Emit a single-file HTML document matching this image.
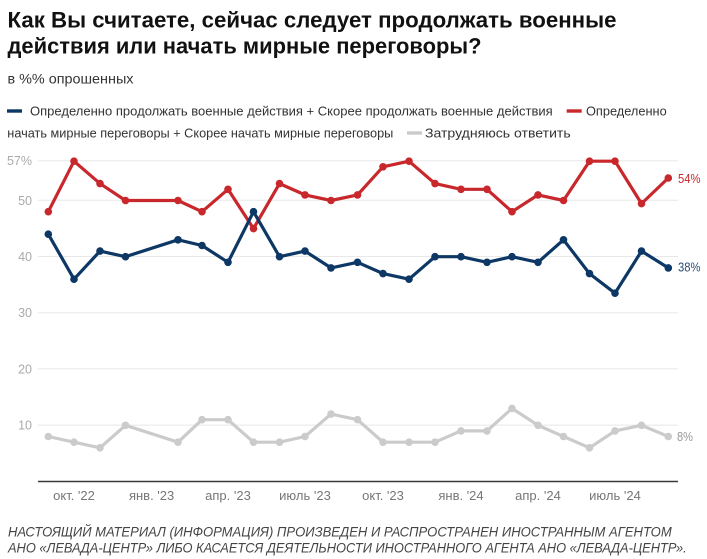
<!DOCTYPE html>
<html><head><meta charset="utf-8"><style>
html,body{margin:0;padding:0;background:#fff;}
svg{display:block;}
text{font-family:"Liberation Sans","Noto Sans CJK SC",sans-serif;}
</style></head><body>
<svg width="707" height="559" viewBox="0 0 707 559" xmlns="http://www.w3.org/2000/svg">
<defs>
<marker id="mr" markerWidth="10" markerHeight="10" refX="5" refY="5" markerUnits="userSpaceOnUse"><circle cx="5" cy="5" r="3.8" fill="#c8282c"/></marker>
<marker id="mb" markerWidth="10" markerHeight="10" refX="5" refY="5" markerUnits="userSpaceOnUse"><circle cx="5" cy="5" r="3.8" fill="#0d3765"/></marker>
<marker id="mg" markerWidth="10" markerHeight="10" refX="5" refY="5" markerUnits="userSpaceOnUse"><circle cx="5" cy="5" r="3.8" fill="#cbcbcb"/></marker>
</defs>
<rect width="707" height="559" fill="#fff"/>
<!-- title -->
<text x="7.5" y="27.5" font-size="22" font-weight="bold" fill="#111" textLength="609" lengthAdjust="spacingAndGlyphs">Как Вы считаете, сейчас следует продолжать военные</text>
<text x="7.5" y="53.5" font-size="22" font-weight="bold" fill="#111" textLength="474" lengthAdjust="spacingAndGlyphs">действия или начать мирные переговоры?</text>
<text x="7.5" y="83.5" font-size="14" fill="#333" textLength="126" lengthAdjust="spacingAndGlyphs">в %% опрошенных</text>
<!-- legend -->
<rect x="7" y="109.3" width="15" height="3.4" fill="#0d3765"/>
<text x="30" y="115.5" font-size="13" fill="#333" textLength="522.7" lengthAdjust="spacingAndGlyphs">Определенно продолжать военные действия + Скорее продолжать военные действия</text>
<rect x="566.7" y="109.3" width="15" height="3.4" fill="#c8282c"/>
<text x="586" y="115.5" font-size="13" fill="#333" textLength="80.7" lengthAdjust="spacingAndGlyphs">Определенно</text>
<text x="7.3" y="137.5" font-size="13" fill="#333" textLength="386" lengthAdjust="spacingAndGlyphs">начать мирные переговоры + Скорее начать мирные переговоры</text>
<rect x="407" y="131.3" width="15" height="3.4" fill="#cbcbcb"/>
<text x="425" y="137.5" font-size="13" fill="#333" textLength="145.7" lengthAdjust="spacingAndGlyphs">Затрудняюсь ответить</text>
<!-- grid -->
<g stroke="#e8e8e8" stroke-width="1">
<line x1="38" x2="678" y1="160.7" y2="160.7"/>
<line x1="38" x2="678" y1="200.3" y2="200.3"/>
<line x1="38" x2="678" y1="256.5" y2="256.5"/>
<line x1="38" x2="678" y1="312.7" y2="312.7"/>
<line x1="38" x2="678" y1="368.9" y2="368.9"/>
<line x1="38" x2="678" y1="425.1" y2="425.1"/>
</g>
<g font-size="12.5" fill="#aaa" text-anchor="end">
<text x="32" y="165.2">57%</text>
<text x="32" y="204.8">50</text>
<text x="32" y="261">40</text>
<text x="32" y="317.2">30</text>
<text x="32" y="373.4">20</text>
<text x="32" y="429.6">10</text>
</g>
<line x1="38" x2="678" y1="481.5" y2="481.5" stroke="#3a3a3a" stroke-width="1.6"/>
<g font-size="13" fill="#777" text-anchor="middle">
<text x="74" y="500">окт. '22</text>
<text x="151.6" y="500">янв. '23</text>
<text x="228" y="500">апр. '23</text>
<text x="305" y="500">июль '23</text>
<text x="383" y="500">окт. '23</text>
<text x="461" y="500">янв. '24</text>
<text x="538" y="500">апр. '24</text>
<text x="615" y="500">июль '24</text>
</g>
<!-- series -->
<polyline fill="none" stroke="#cbcbcb" stroke-width="3.2" stroke-linejoin="round" marker-start="url(#mg)" marker-mid="url(#mg)" marker-end="url(#mg)" points="48.3,436.5 74,442.2 100,447.8 125.5,425.3 178,442.2 202,419.7 228,419.7 253.5,442.2 279.5,442.2 305,436.5 331,414.1 357.5,419.7 383,442.2 409,442.2 435,442.2 461,430.9 487,430.9 512,408.4 538,425.3 563.5,436.5 589.5,447.8 615,430.9 641.5,425.3 668.3,436.5"/>
<polyline fill="none" stroke="#c8282c" stroke-width="3.2" stroke-linejoin="round" marker-start="url(#mr)" marker-mid="url(#mr)" marker-end="url(#mr)" points="48.3,211.7 74,161.2 100,183.6 125.5,200.5 178,200.5 202,211.7 228,189.3 253.5,228.6 279.5,183.6 305,194.9 331,200.5 357.5,194.9 383,166.8 409,161.2 435,183.6 461,189.3 487,189.3 512,211.7 538,194.9 563.5,200.5 589.5,161.2 615,161.2 641.5,203.6 668.3,178"/>
<polyline fill="none" stroke="#0d3765" stroke-width="3.2" stroke-linejoin="round" marker-start="url(#mb)" marker-mid="url(#mb)" marker-end="url(#mb)" points="48.3,234.2 74,279.2 100,251.1 125.5,256.7 178,239.8 202,245.5 228,262.3 253.5,211.7 279.5,256.7 305,251.1 331,267.9 357.5,262.3 383,273.6 409,279.2 435,256.7 461,256.7 487,262.3 512,256.7 538,262.3 563.5,239.8 589.5,273.6 615,293.2 641.5,251.1 668.3,267.9"/>
<!-- end labels -->
<text x="678" y="183" font-size="12.5" fill="#c8282c" textLength="22.5" lengthAdjust="spacingAndGlyphs">54%</text>
<text x="678" y="271.5" font-size="12.5" fill="#2d4e78" textLength="22.5" lengthAdjust="spacingAndGlyphs">38%</text>
<text x="677" y="441" font-size="12.5" fill="#999" textLength="16" lengthAdjust="spacingAndGlyphs">8%</text>
<!-- footer -->
<g font-size="14" font-style="italic" fill="#444">
<text x="8" y="536.7" textLength="663.7" lengthAdjust="spacingAndGlyphs">НАСТОЯЩИЙ МАТЕРИАЛ (ИНФОРМАЦИЯ) ПРОИЗВЕДЕН И РАСПРОСТРАНЕН ИНОСТРАННЫМ АГЕНТОМ</text>
<text x="8" y="552.7" textLength="678.7" lengthAdjust="spacingAndGlyphs">АНО «ЛЕВАДА-ЦЕНТР» ЛИБО КАСАЕТСЯ ДЕЯТЕЛЬНОСТИ ИНОСТРАННОГО АГЕНТА АНО «ЛЕВАДА-ЦЕНТР».</text>
<text x="8" y="569">10</text>
</g>
</svg>
</body></html>
